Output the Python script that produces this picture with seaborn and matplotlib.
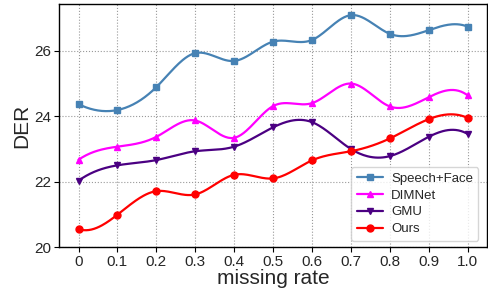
import numpy as np
import pandas as pd
import seaborn as sns
import matplotlib.pyplot as plt
from matplotlib.lines import Line2D

missing_rate = [0.0, 0.1, 0.2, 0.3, 0.4, 0.5, 0.6, 0.7, 0.8, 0.9, 1.0]
tick_labels = ['0', '0.1', '0.2', '0.3', '0.4', '0.5', '0.6', '0.7', '0.8', '0.9', '1.0']

speech_face = [24.37, 24.19, 24.89, 25.93, 25.69, 26.28, 26.33, 27.09, 26.52, 26.63, 26.74]
dimnet = [22.67, 23.07, 23.37, 23.87, 23.34, 24.31, 24.40, 25.00, 24.30, 24.58, 24.64]
gmu = [22.03, 22.50, 22.66, 22.93, 23.07, 23.66, 23.82, 23.00, 22.78, 23.37, 23.46]
ours = [20.55, 20.99, 21.71, 21.61, 22.21, 22.10, 22.65, 22.93, 23.32, 23.91, 23.95]

series = [
    ('Speech+Face', speech_face, '#4682B4', 's'),
    ('DIMNet', dimnet, '#FF00FF', '^'),
    ('GMU', gmu, '#4B0082', 'v'),
    ('Ours', ours, '#FF0000', 'o'),
]


def smooth_curve(x, y, n=300):
    """not-a-knot cubic spline through the points, only for drawing the line"""
    x = np.asarray(x, float)
    y = np.asarray(y, float)
    m = len(x)
    h = np.diff(x)
    A = np.zeros((m, m))
    b = np.zeros(m)
    for i in range(1, m - 1):
        A[i, i - 1] = h[i - 1]
        A[i, i] = 2 * (h[i - 1] + h[i])
        A[i, i + 1] = h[i]
        b[i] = 6 * ((y[i + 1] - y[i]) / h[i] - (y[i] - y[i - 1]) / h[i - 1])
    A[0, 0], A[0, 1], A[0, 2] = h[1], -(h[0] + h[1]), h[0]
    A[-1, -3], A[-1, -2], A[-1, -1] = h[-1], -(h[-2] + h[-1]), h[-2]
    M = np.linalg.solve(A, b)
    xs = np.linspace(x[0], x[-1], n)
    idx = np.clip(np.searchsorted(x, xs) - 1, 0, m - 2)
    x0, x1 = x[idx], x[idx + 1]
    hh = x1 - x0
    ys = (M[idx] * (x1 - xs) ** 3 / (6 * hh) + M[idx + 1] * (xs - x0) ** 3 / (6 * hh)
          + (y[idx] / hh - M[idx] * hh / 6) * (x1 - xs)
          + (y[idx + 1] / hh - M[idx + 1] * hh / 6) * (xs - x0))
    return xs, ys


sns.set_style('ticks')
plt.rcParams['font.family'] = ['Liberation Sans', 'DejaVu Sans']

fig, ax = plt.subplots(figsize=(4.88, 2.88), dpi=100)

handles = []
for name, vals, color, marker in series:
    xs, ys = smooth_curve(missing_rate, vals)
    sns.lineplot(x=xs, y=ys, ax=ax, color=color, linewidth=1.6, legend=False)
    ax.plot(missing_rate, vals, linestyle='', marker=marker, color=color,
            markersize=5, markeredgecolor=color)
    handles.append(Line2D([], [], color=color, marker=marker, linewidth=1.6,
                          markersize=5, label=name))

ax.set_xticks(missing_rate)
ax.set_xticklabels(tick_labels)
ax.set_yticks([20, 22, 24, 26])
ax.set_ylim(20, 27.43)
ax.set_xlim(-0.05, 1.05)
ax.grid(True, linestyle=':', color='#999999', linewidth=0.8)
ax.tick_params(labelsize=11, length=3.5, pad=2, color='black')
for s in ax.spines.values():
    s.set_color('black')
    s.set_linewidth(1.0)

ax.set_xlabel('missing rate', fontsize=15, labelpad=0)
ax.set_ylabel('DER', fontsize=15, labelpad=2)

ax.legend(handles=handles, loc='lower right', fontsize=9.5, frameon=True,
          handlelength=2.0, borderpad=0.4, labelspacing=0.35, handletextpad=0.6,
          bbox_to_anchor=(0.995, 0.0))

plt.subplots_adjust(left=0.121, right=0.998, top=0.986, bottom=0.142)
plt.savefig('out.png', dpi=100)
plt.close()
